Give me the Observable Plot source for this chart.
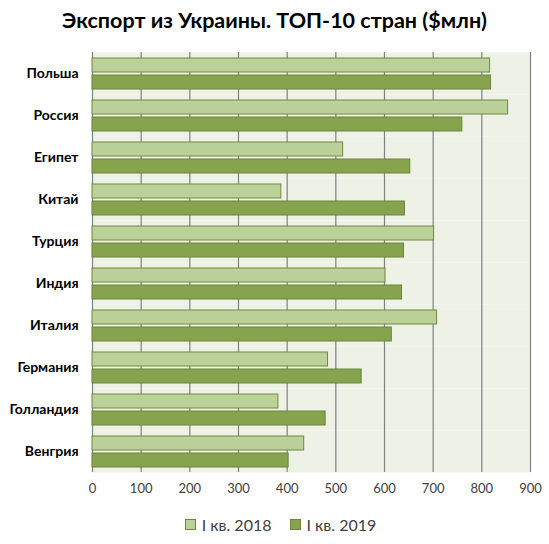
<!DOCTYPE html>
<html>
<head>
<meta charset="utf-8">
<script src="https://cdn.jsdelivr.net/npm/d3@7"></script>
<script src="https://cdn.jsdelivr.net/npm/@observablehq/plot@0.6"></script>
<style>
  body { margin: 0; background: #fff; font-family: Lato, "Open Sans", sans-serif; }
  #title { width: 549px; height: 40px; line-height: 40px; text-align: center; font-size: 21.5px; font-weight: bold; color: #000; }
  #chart svg { display: block; }
  #legend { width: 549px; height: 39px; display: flex; justify-content: center; align-items: center; gap: 18px; padding-left: 12px; box-sizing: border-box; font-size: 16px; color: #404040; }
  #legend .item { display: flex; align-items: center; gap: 6px; }
  #legend .sw { width: 9px; height: 9px; border: 1px solid; }
  #chart [aria-label^="fy-axis"] text { font-weight: bold; font-size: 14px; fill: #000; }
</style>
</head>
<body>
<div id="title">Экспорт из Украины. ТОП-10 стран ($млн)</div>
<div id="chart"></div>
<div id="legend"></div>
<script>
// данные
const countries = ['Польша', 'Россия', 'Египет', 'Китай', 'Турция', 'Индия', 'Италия', 'Германия', 'Голландия', 'Венгрия']
const series = ['I кв. 2018', 'I кв. 2019']
const q1_2018 = [817, 854, 515, 388, 702, 602, 708, 484, 382, 435]
const q1_2019 = [819, 760, 653, 642, 640, 636, 615, 553, 479, 403]
const xTicks = [0, 100, 200, 300, 400, 500, 600, 700, 800, 900]

const fills = ['#bcd19a', '#87a34e']
const strokes = ['#71893f', '#6a853a']

const data = countries.flatMap((c, i) => [
  {country: c, series: series[0], value: q1_2018[i]},
  {country: c, series: series[1], value: q1_2019[i]}
])

let chart = Plot.plot({
  width: 549,
  height: 465,
  marginTop: 7,
  marginBottom: 29,
  marginLeft: 92,
  marginRight: 19,
  fy: {domain: countries, padding: 0, axis: 'left', tickSize: 0, tickPadding: 14, label: null},
  x: {domain: [0, 900], ticks: xTicks, tickSize: 0, tickPadding: 11, label: null},
  y: {domain: series, axis: null, paddingInner: 0.2, paddingOuter: 0.28},
  marks: [
    Plot.frame({fill: '#eef2e6', stroke: 'none'}),
    Plot.ruleX(xTicks, {x: d => d, stroke: '#808080', strokeWidth: 1.2, strokeOpacity: 1}),
    Plot.barX(data, {
      filter: d => d.series == series[0],
      x: 'value', y: 'series', fy: 'country',
      fill: fills[0], stroke: strokes[0], strokeWidth: 1
    }),
    Plot.barX(data, {
      filter: d => d.series == series[1],
      x: 'value', y: 'series', fy: 'country',
      fill: fills[1], stroke: strokes[1], strokeWidth: 1
    })
  ],
  style: {
    fontFamily: 'Lato, sans-serif',
    fontSize: '13px',
    color: '#404040',
    background: 'transparent'
  }
})
d3.select('#chart').append(() => chart)

// легенда
const legend = d3.select('#legend')
series.forEach((s, i) => {
  const item = legend.append('div').attr('class', 'item')
  item.append('div').attr('class', 'sw')
    .style('background', fills[i])
    .style('border-color', strokes[i])
  item.append('span').text(s)
})
</script>
</body>
</html>
